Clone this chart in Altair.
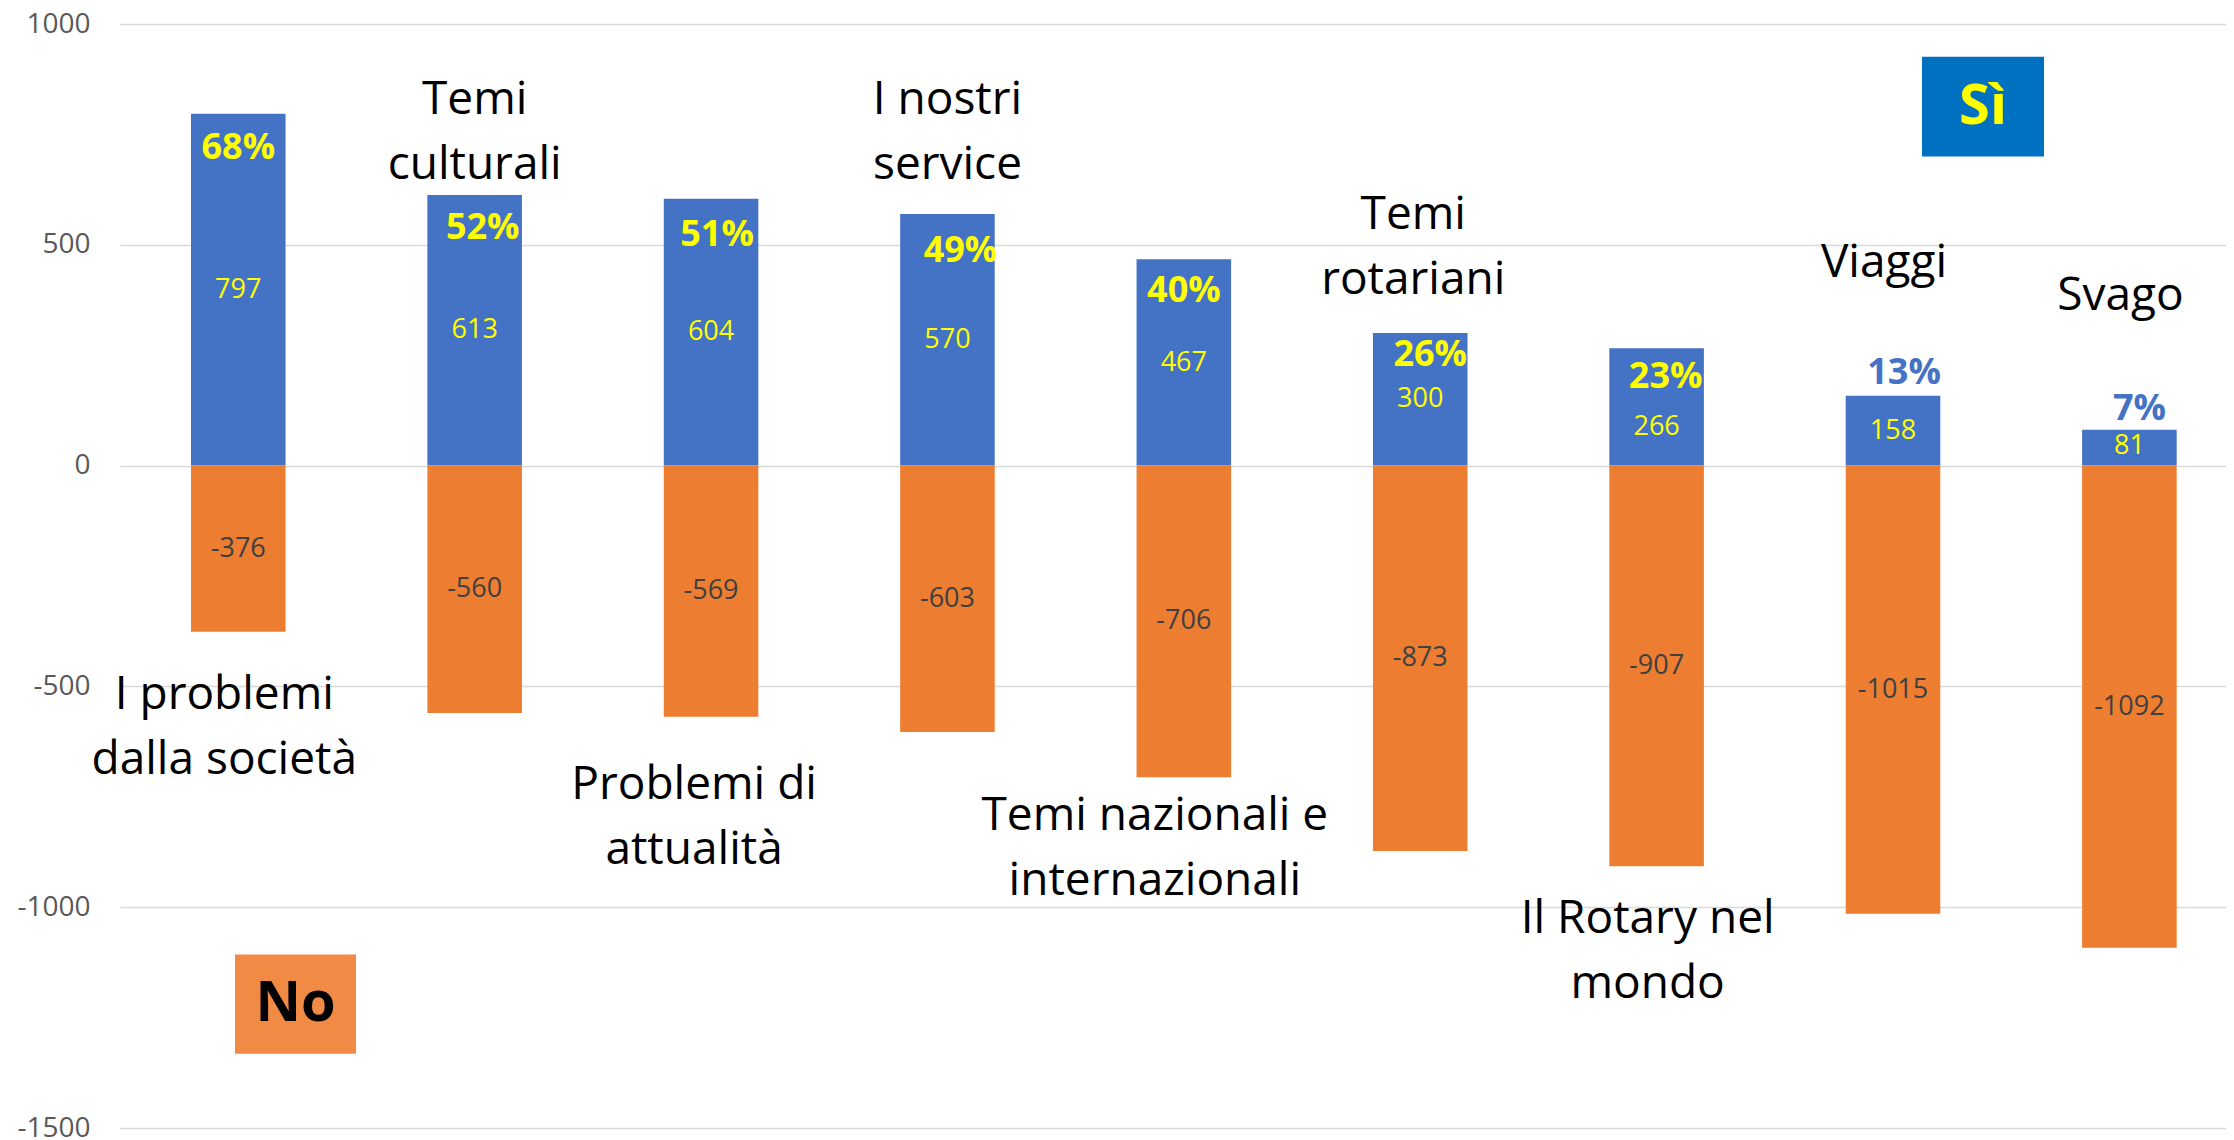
import altair as alt
import pandas as pd

# ---- data ----
categories = ["I problemi dalla società", "Temi culturali", "Problemi di attualità",
              "I nostri service", "Temi nazionali e internazionali", "Temi rotariani",
              "Il Rotary nel mondo", "Viaggi", "Svago"]
label_text = ["I problemi\ndalla società", "Temi\nculturali", "Problemi di\nattualità",
              "I nostri\nservice", "Temi nazionali e\ninternazionali", "Temi\nrotariani",
              "Il Rotary nel\nmondo", "Viaggi", "Svago"]
si_values = [797, 613, 604, 570, 467, 300, 266, 158, 81]
no_values = [-376, -560, -569, -603, -706, -873, -907, -1015, -1092]
pct_labels = ["68%", "52%", "51%", "49%", "40%", "26%", "23%", "13%", "7%"]
pct_inside = [True, True, True, True, True, True, True, False, False]
y_ticks = [-1500, -1000, -500, 0, 500, 1000]

# annotation anchors (data units on the y scale / pixel nudges from bar centre)
label_y = [-519, 829, -723, 829, -793, 568, -1026, 458, 385]
label_dx = [-14, 0, -17, 0, -29, -7, -9, -9, -9]
pct_y = [719, 539, 522, 487, 396, 251, 200, 210, 129]
pct_dx = [0, 8, 6, 13, 0, 10, 9, 11, 10]
si_label_y = [398, 306, 302, 285, 233, 150, 88, 79, 44]

BLUE = "#4472C4"
ORANGE = "#ED7D31"
FONT = "Open Sans"
HALF_BAND = 47.3

df = pd.DataFrame({
    "cat": categories,
    "label": label_text,
    "si": si_values,
    "no": no_values,
    "pct": pct_labels,
    "inside": pct_inside,
    "label_y": label_y,
    "label_dx": [d + HALF_BAND for d in label_dx],
    "pct_y": pct_y,
    "pct_dx": [d + HALF_BAND for d in pct_dx],
    "si_label_y": si_label_y,
})

xscale = alt.Scale(paddingInner=0.6, paddingOuter=0.2545, align=0.59, round=False)
X = alt.X("cat:N", sort=categories, scale=xscale, axis=None)
yscale = alt.Scale(domain=[-1500, 1000], nice=False, zero=False)
yaxis = alt.Axis(values=y_ticks, grid=True, gridColor="#D9D9D9", gridWidth=1.5,
                 domain=False, ticks=False, labelFont=FONT, labelFontSize=28,
                 labelColor="#595959", labelPadding=30, title=None,
                 labelExpr="datum.value + ''")

base = alt.Chart(df).transform_calculate(
    no_mid="datum.no / 2",
    si_str="datum.si + ''", no_str="datum.no + ''"
)

bars_si = base.mark_bar(color=BLUE).encode(
    x=X, y=alt.Y("si:Q", scale=yscale, axis=yaxis), y2=alt.datum(0)
)
bars_no = base.mark_bar(color=ORANGE).encode(
    x=X, y=alt.Y("no:Q"), y2=alt.datum(0)
)

val_si = base.mark_text(font=FONT, fontSize=27, color="#FFFF00", baseline="middle").encode(
    x=X, y=alt.Y("si_label_y:Q"), text="si_str:N"
)
val_no = base.mark_text(font=FONT, fontSize=27, color="#404040", baseline="middle").encode(
    x=X, y=alt.Y("no_mid:Q"), text="no_str:N"
)

pct_text = base.mark_text(font=FONT, fontSize=36, fontWeight="bold", baseline="middle").encode(
    x=X, y=alt.Y("pct_y:Q"), xOffset=alt.XOffset("pct_dx:Q", scale=None),
    text="pct:N",
    color=alt.condition("datum.inside", alt.value("#FFFF00"), alt.value(BLUE)),
)

cat_text = base.mark_text(font=FONT, fontSize=46, color="black", baseline="middle",
                          lineBreak="\n", lineHeight=65).encode(
    x=X, y=alt.Y("label_y:Q"), xOffset=alt.XOffset("label_dx:Q", scale=None),
    text="label:N"
)

ann = alt.Chart(pd.DataFrame({"k": [0]}))
si_box = ann.mark_rect(color="#0070C0").encode(
    x=alt.value(1802), x2=alt.value(1924), y=alt.datum(926), y2=alt.datum(700)
)
si_lbl = ann.mark_text(font=FONT, fontSize=56, fontWeight="bold", color="#FFFF00",
                       baseline="middle").encode(
    x=alt.value(1863), y=alt.datum(813), text=alt.value("Sì")
)
no_box = ann.mark_rect(color="#F08A45").encode(
    x=alt.value(115), x2=alt.value(236), y=alt.datum(-1107), y2=alt.datum(-1332)
)
no_lbl = ann.mark_text(font=FONT, fontSize=56, fontWeight="bold", color="black",
                       baseline="middle").encode(
    x=alt.value(175.5), y=alt.datum(-1220), text=alt.value("No")
)

chart = alt.layer(
    bars_si, bars_no, val_si, val_no, pct_text, cat_text, si_box, si_lbl, no_box, no_lbl
).properties(
    width=2106, height=1104,
    autosize=alt.AutoSizeParams(type="none"),
    padding={"left": 112, "top": 16, "right": 0, "bottom": 10},
    background="white",
).configure_view(stroke=None)

chart.save("out.html", embed_options={"renderer": "svg", "actions": False})
